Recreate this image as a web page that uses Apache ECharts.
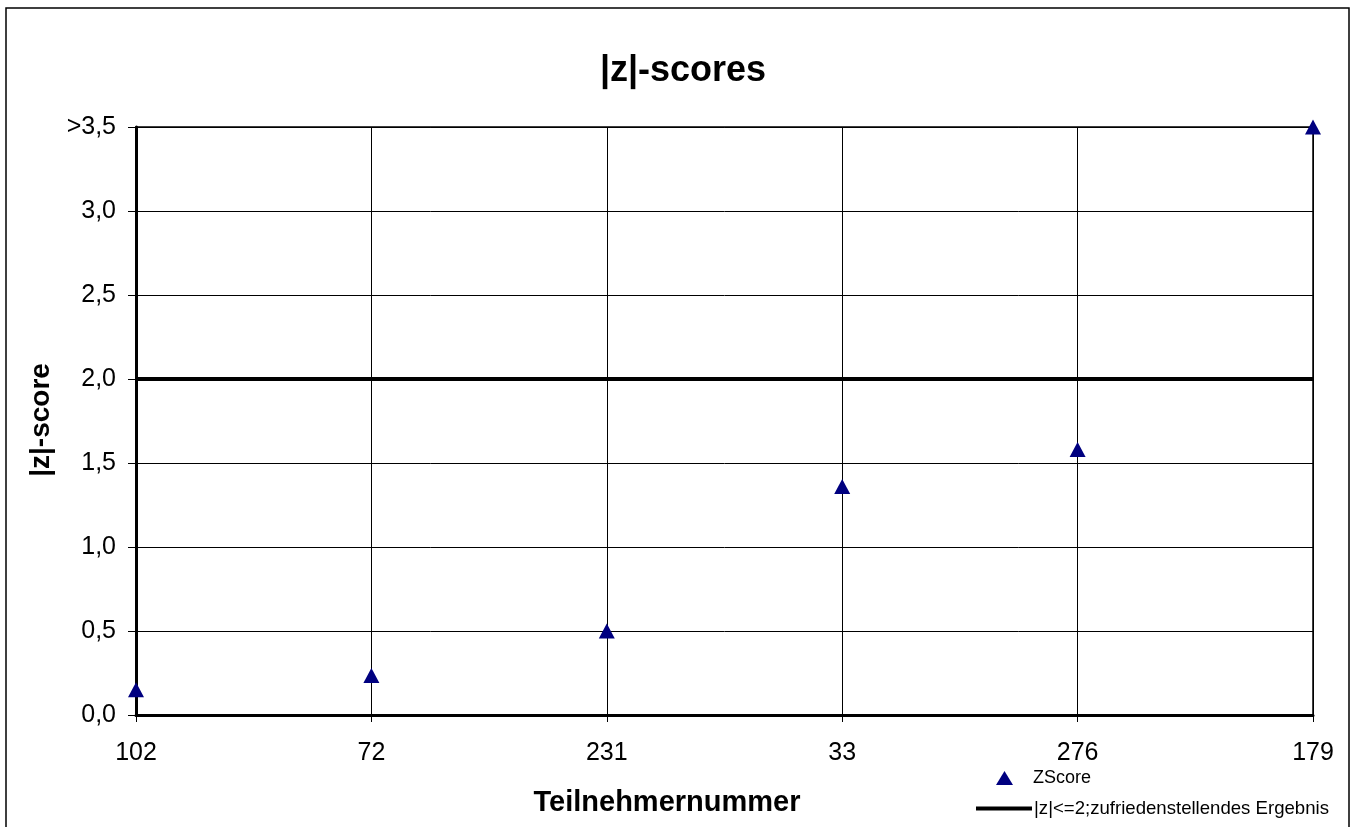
<!DOCTYPE html>
<html><head><meta charset="utf-8">
<script src="https://cdn.jsdelivr.net/npm/echarts@6/dist/echarts.min.js"></script>
<style>html,body{margin:0;padding:0;background:#fff}#c{width:1356px;height:827px}</style>
</head><body><div id="c"></div>
<script>
const categories = ['102', '72', '231', '33', '276', '179'];
const zScores = [0.15, 0.235, 0.5, 1.36, 1.58, 3.5];
const threshold = [2, 2, 2, 2, 2, 2];
const yTickLabels = ['0,0', '0,5', '1,0', '1,5', '2,0', '2,5', '3,0', '>3,5'];
const seriesNames = ['ZScore', '|z|<=2;zufriedenstellendes Ergebnis'];

const chart = echarts.init(document.getElementById('c'), null, {renderer: 'canvas'});
const font = 'Liberation Sans, Arial, sans-serif';
chart.setOption({
  backgroundColor: '#fff',
  animation: false,
  textStyle: {fontFamily: font},
  title: [
    {text: '|z|-scores', left: 678, top: 48, textAlign: 'center',
     textStyle: {fontSize: 36, fontWeight: 'bold', color: '#000', fontFamily: font}},
    {text: 'Teilnehmernummer', left: 662, top: 783, textAlign: 'center',
     textStyle: {fontSize: 29, fontWeight: 'bold', color: '#000', fontFamily: font}}
  ],
  graphic: [
    {type: 'rect', shape: {x: 6, y: 8, width: 1343, height: 840},
     style: {fill: 'none', stroke: '#000', lineWidth: 1.5}, silent: true, z: 0},
    {type: 'text', x: 41, y: 420, rotation: Math.PI / 2,
     style: {text: '|z|-score', fontSize: 28, fontWeight: 'bold', fill: '#000', fontFamily: font,
             textAlign: 'center', textVerticalAlign: 'middle'}}
  ],
  grid: {left: 136, top: 127, right: 43, bottom: 112, show: true,
         borderColor: '#000', borderWidth: 1.5, backgroundColor: 'transparent'},
  legend: [
    {data: [{name: seriesNames[0], icon: 'triangle'}], left: 991, top: 764,
     itemWidth: 17, itemHeight: 14,
     textStyle: {fontSize: 18, color: '#000', fontFamily: font, padding: [0, 0, 0, 15]}},
    {data: [{name: seriesNames[1], icon: 'rect'}], left: 971, top: 794,
     itemWidth: 56, itemHeight: 4,
     textStyle: {fontSize: 18.6, color: '#000', fontFamily: font, padding: [0, 0, 0, -3]}}
  ],
  xAxis: {
    type: 'category', data: categories, boundaryGap: false,
    axisLine: {lineStyle: {color: '#000', width: 3}},
    axisTick: {show: true, length: 7, lineStyle: {color: '#000', width: 1}},
    axisLabel: {fontSize: 25, color: '#000', margin: 26, fontFamily: font},
    splitLine: {show: true, lineStyle: {color: '#000', width: 1}}
  },
  yAxis: {
    type: 'value', min: 0, max: 3.5, interval: 0.5,
    axisLine: {show: true, lineStyle: {color: '#000', width: 3}},
    axisTick: {show: true, length: 8, lineStyle: {color: '#000', width: 1}},
    axisLabel: {fontSize: 25, color: '#000', margin: 20, fontFamily: font,
      formatter: function (v) { return yTickLabels[Math.round(v / 0.5)]; }},
    splitLine: {show: true, lineStyle: {color: '#000', width: 1}}
  },
  series: [
    {name: seriesNames[1], type: 'line', data: threshold, symbol: 'none',
     lineStyle: {color: '#000', width: 4}, itemStyle: {color: '#000'}, z: 3},
    {name: seriesNames[0], type: 'scatter', data: zScores, symbol: 'triangle',
     symbolSize: [16, 15], clip: false, itemStyle: {color: '#000080', opacity: 1}, z: 5}
  ]
});
</script></body></html>
